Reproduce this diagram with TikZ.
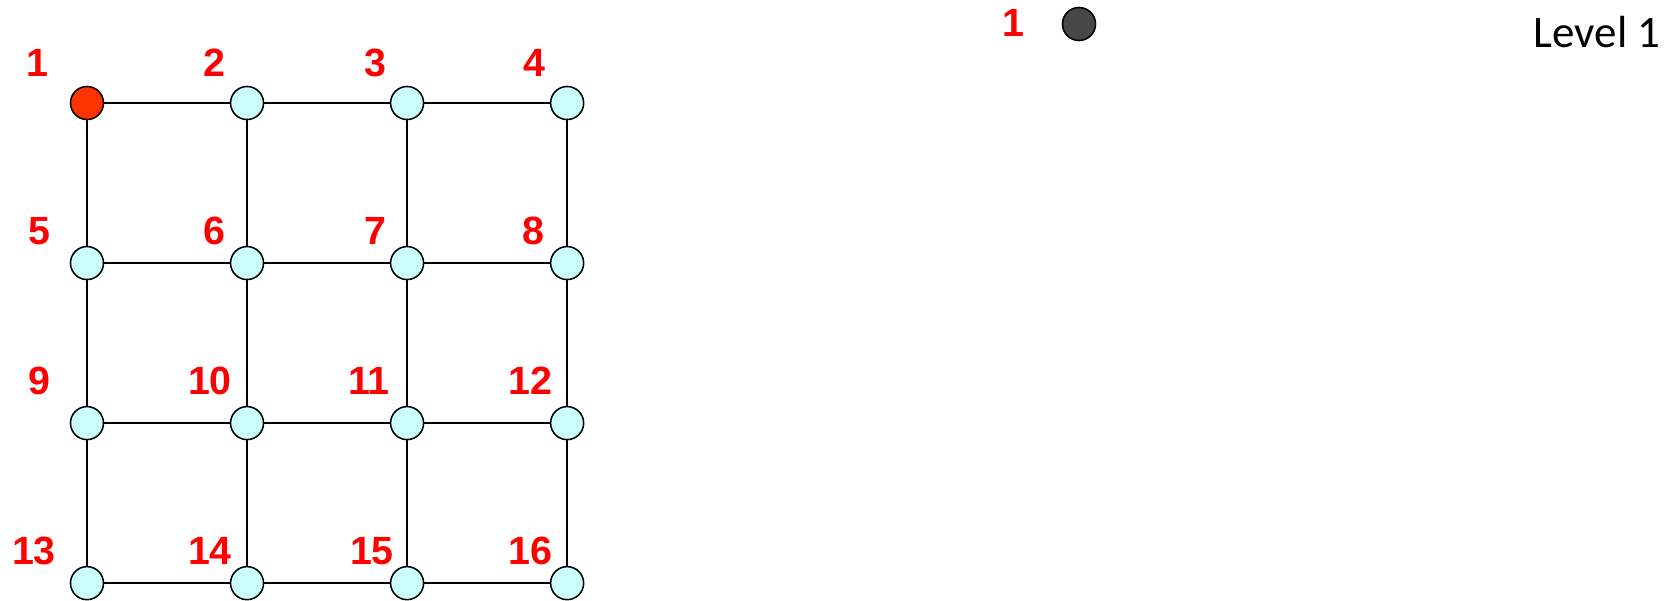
\documentclass[tikz,border=0pt]{standalone}
\usepackage{fontspec}
\setmainfont{Carlito}
\newfontfamily\numfont{Liberation Sans}
\usetikzlibrary{positioning}
\definecolor{nodecyan}{HTML}{CCFFFF}
\definecolor{startred}{HTML}{FF3300}
\definecolor{darkdot}{HTML}{474747}
\definecolor{labelred}{HTML}{FF0000}

\begin{document}
\begin{tikzpicture}[
  x=0.025cm, y=-0.025cm,
  v/.style={circle, draw, line width=1.1pt, fill=nodecyan,
            minimum size=23.5pt, inner sep=0pt},
  num/.style={text=labelred, inner sep=0pt,
              font=\numfont\bfseries\fontsize{28}{28}\selectfont},
  e/.style={line width=1.1pt},
  node distance=4cm and 4cm, on grid,
]
  \useasboundingbox (0,0) rectangle (1680,600);

  % grid
  \node[v, fill=startred] (n1) at (87,103) {};
  \node[v, right=of n1]  (n2)  {};
  \node[v, right=of n2]  (n3)  {};
  \node[v, right=of n3]  (n4)  {};
  \node[v, below=of n1]  (n5)  {};
  \node[v, right=of n5]  (n6)  {};
  \node[v, right=of n6]  (n7)  {};
  \node[v, right=of n7]  (n8)  {};
  \node[v, below=of n5]  (n9)  {};
  \node[v, right=of n9]  (n10) {};
  \node[v, right=of n10] (n11) {};
  \node[v, right=of n11] (n12) {};
  \node[v, below=of n9]  (n13) {};
  \node[v, right=of n13] (n14) {};
  \node[v, right=of n14] (n15) {};
  \node[v, right=of n15] (n16) {};

  \node[num] (l1)  at (37,63)    {1};
  \node[num] (l2)  at (214,63)   {2};
  \node[num] (l3)  at (375,63)   {3};
  \node[num] (l4)  at (534,63)   {4};
  \node[num] (l5)  at (39,231)   {5};
  \node[num] (l6)  at (214,231)  {6};
  \node[num] (l7)  at (375,231)  {7};
  \node[num] (l8)  at (533,231)  {8};
  \node[num] (l9)  at (39,381)   {9};
  \node[num] (l10) at (210,381)  {10};
  \node[num] (l11) at (369,381)  {11};
  \node[num] (l12) at (530,381)  {12};
  \node[num] (l13) at (34,551)   {13};
  \node[num] (l14) at (210,551)  {14};
  \node[num] (l15) at (372,551)  {15};
  \node[num] (l16) at (530,551)  {16};

  \draw[e] (n1) -- (n2);  \draw[e] (n2) -- (n3);  \draw[e] (n3) -- (n4);
  \draw[e] (n5) -- (n6);  \draw[e] (n6) -- (n7);  \draw[e] (n7) -- (n8);
  \draw[e] (n9) -- (n10); \draw[e] (n10) -- (n11); \draw[e] (n11) -- (n12);
  \draw[e] (n13) -- (n14); \draw[e] (n14) -- (n15); \draw[e] (n15) -- (n16);
  \draw[e] (n1) -- (n5);  \draw[e] (n5) -- (n9);  \draw[e] (n9) -- (n13);
  \draw[e] (n2) -- (n6);  \draw[e] (n6) -- (n10); \draw[e] (n10) -- (n14);
  \draw[e] (n3) -- (n7);  \draw[e] (n7) -- (n11); \draw[e] (n11) -- (n15);
  \draw[e] (n4) -- (n8);  \draw[e] (n8) -- (n12); \draw[e] (n12) -- (n16);

  % tree
  \node[v, fill=darkdot] (t1) at (1079,24) {};
  \node[num] (tl1) at (1013,23) {1};
  \node[font=\fontsize{32}{32}\selectfont, inner sep=0pt] (lev1) at (1597,32) {Level 1};
\end{tikzpicture}
\end{document}
